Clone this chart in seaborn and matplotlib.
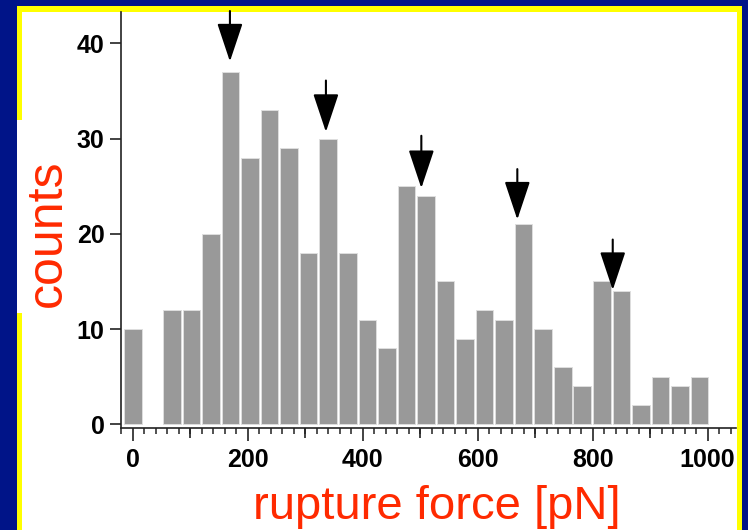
import matplotlib
matplotlib.use("Agg")
import matplotlib.pyplot as plt
from matplotlib.patches import Rectangle
import seaborn as sns
import pandas as pd

# histogram of rupture forces (bin centres in pN, counts per bin)
bin_centers = [0, 34, 68, 102, 136, 170, 204, 238, 272, 306,
               340, 374, 408, 442, 476, 510, 544, 578, 612, 646,
               680, 714, 748, 782, 816, 850, 884, 918, 952, 986]
counts = [10, 0, 12, 12, 20, 37, 28, 33, 29, 18,
          30, 18, 11, 8, 25, 24, 15, 9, 12, 11,
          21, 10, 6, 4, 15, 14, 2, 5, 4, 5]

# arrows marking the peaks: x position, tip and tail heights (counts)
arrow_x = [169, 336, 502, 669, 835]
arrow_tip = [38.1, 30.7, 24.8, 21.5, 14.1]
arrow_tail = [43.4, 36.1, 30.3, 26.8, 19.4]

blue = "#001488"
yellow = "#ffff00"
red = "#ff2a00"

sns.set_style("ticks")
plt.rcParams["font.family"] = ["Liberation Sans", "DejaVu Sans"]

fig = plt.figure(figsize=(7.48, 5.30), dpi=100, facecolor=blue)

# yellow framed white slide panel
fig.patches.append(Rectangle((0.0223, -0.05), 0.9701, 1.0387, transform=fig.transFigure,
                             facecolor=yellow, edgecolor="none", zorder=-3))
fig.patches.append(Rectangle((0.0290, -0.05), 0.9567, 1.0279, transform=fig.transFigure,
                             facecolor="white", edgecolor="none", zorder=-2))
# white box behind the y label (covers the yellow edge)
fig.patches.append(Rectangle((0.0223, 0.4094), 0.0713, 0.3642, transform=fig.transFigure,
                             facecolor="white", edgecolor="none", zorder=-1))

ax = fig.add_axes([0.1614, 0.1919, 0.8222, 0.7855])
ax.set_facecolor("white")

df = pd.DataFrame({"force": bin_centers, "counts": counts})
df = df[df["counts"] > 0]
sns.barplot(data=df, x="force", y="counts", native_scale=True, width=0.9,
            color="#999999", saturation=1, edgecolor="#dedede", linewidth=0.7,
            errorbar=None, ax=ax)

for x, tip, tail in zip(arrow_x, arrow_tip, arrow_tail):
    ax.annotate("", xy=(x, tip), xytext=(x, tail),
                arrowprops=dict(arrowstyle="-|>,head_length=2.4,head_width=0.8",
                                color="black", lw=1.5, shrinkA=0, shrinkB=0,
                                mutation_scale=10),
                annotation_clip=False)

ax.set_xlim(-21, 1049)
ax.set_ylim(-0.42, 43.3)
sns.despine(ax=ax)
for s in ["left", "bottom"]:
    ax.spines[s].set_color("#222222")
    ax.spines[s].set_linewidth(1.2)

ax.set_xticks([0, 200, 400, 600, 800, 1000])
ax.set_xticks(range(-20, 1050, 20), minor=True)
ax.set_yticks([0, 10, 20, 30, 40])
ax.tick_params(axis="x", which="major", length=9.5, width=1.2, pad=5,
               color="#222222", labelcolor="black")
ax.tick_params(axis="x", which="minor", length=4, width=1.1, color="#222222")
ax.tick_params(axis="y", which="major", length=7.7, width=1.2, pad=4,
               color="#222222", labelcolor="black")
for lab in ax.get_xticklabels() + ax.get_yticklabels():
    lab.set_fontsize(18)
    lab.set_fontweight("bold")

# medium ticks at the odd hundreds
sec = ax.secondary_xaxis("bottom")
sec.set_xticks([100, 300, 500, 700, 900])
sec.tick_params(length=7, width=1.2, labelbottom=False, color="#222222")
sec.spines["bottom"].set_visible(False)

ax.set_xlabel("rupture force [pN]", fontsize=34, color=red)
ax.xaxis.label.set_va("center")
ax.xaxis.set_label_coords(0.5135, -0.189)
ax.set_ylabel("counts", fontsize=36, color=red)
ax.yaxis.label.set_va("center")
ax.yaxis.set_label_coords(-0.119, 0.468)

fig.savefig("out.png", dpi=100, facecolor=blue)
